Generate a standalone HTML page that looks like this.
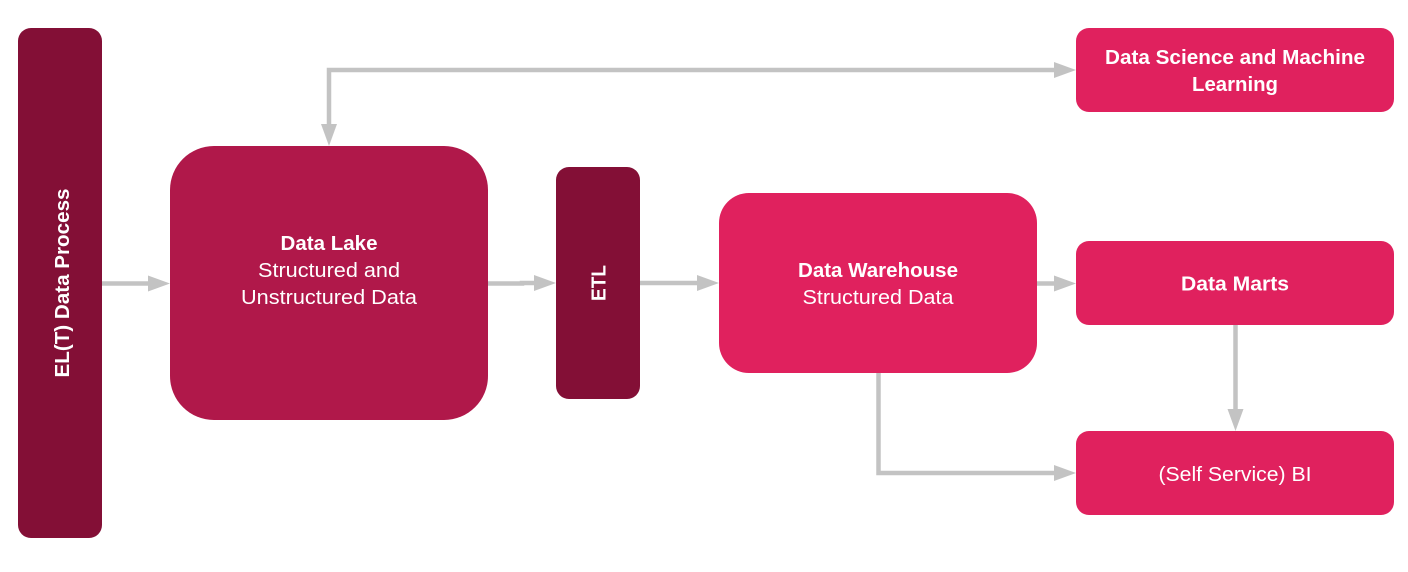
<!DOCTYPE html>
<html><head><meta charset="utf-8"><style>
html,body{margin:0;padding:0;background:#fff;width:1408px;height:572px;overflow:hidden}
svg{display:block}
text{font-family:"Liberation Sans",sans-serif;fill:#fff;text-anchor:middle;font-size:20px}
.b{font-weight:700}
</style></head><body>
<svg width="1408" height="572" viewBox="0 0 1408 572" xmlns="http://www.w3.org/2000/svg">
<rect width="1408" height="572" fill="#fff"/>
<g fill="none" stroke="#c3c3c3" stroke-width="4.5">
<path d="M102 283.500H150"/>
<path d="M488 283.500H522V283H535"/>
<path d="M640 283H698"/>
<path d="M1037 283.500H1055"/>
<path d="M329 125V70H1055"/>
<path d="M878.500 373V473H1055"/>
<path d="M1235.500 325V410"/>
</g>
<g fill="#c3c3c3">
<path d="M170 283.500L148 275.500V291.500Z"/>
<path d="M556 283L534 275V291Z"/>
<path d="M719 283L697 275V291Z"/>
<path d="M1076 283.500L1054 275.500V291.500Z"/>
<path d="M1076 70L1054 62V78Z"/>
<path d="M1076 473L1054 465V481Z"/>
<path d="M329 146L321 124H337Z"/>
<path d="M1235.500 431L1227.500 409H1243.500Z"/>
</g>
<rect x="18" y="28" width="84" height="510" rx="13" fill="#830f36"/>
<rect x="170" y="146" width="318" height="274" rx="44" fill="#b0184a"/>
<rect x="556" y="167" width="84" height="232" rx="13" fill="#830f36"/>
<rect x="719" y="193" width="318" height="180" rx="30" fill="#e0215e"/>
<rect x="1076" y="28" width="318" height="84" rx="13" fill="#e0215e"/>
<rect x="1076" y="241" width="318" height="84" rx="13" fill="#e0215e"/>
<rect x="1076" y="431" width="318" height="84" rx="13" fill="#e0215e"/>
<text class="b" transform="translate(69 283) rotate(-90)" textLength="189" lengthAdjust="spacingAndGlyphs">EL(T) Data Process</text>
<text class="b" transform="translate(605.500 283) rotate(-90)" textLength="36" lengthAdjust="spacingAndGlyphs">ETL</text>
<text class="b" x="329" y="250" textLength="97" lengthAdjust="spacingAndGlyphs">Data Lake</text>
<text x="329" y="277" textLength="142" lengthAdjust="spacingAndGlyphs">Structured and</text>
<text x="329" y="304" textLength="176" lengthAdjust="spacingAndGlyphs">Unstructured Data</text>
<text class="b" x="878" y="277" textLength="160" lengthAdjust="spacingAndGlyphs">Data Warehouse</text>
<text x="878" y="304" textLength="151" lengthAdjust="spacingAndGlyphs">Structured Data</text>
<text class="b" x="1235" y="64" textLength="260" lengthAdjust="spacingAndGlyphs">Data Science and Machine</text>
<text class="b" x="1235" y="91" textLength="86" lengthAdjust="spacingAndGlyphs">Learning</text>
<text class="b" x="1235" y="290.500" textLength="108" lengthAdjust="spacingAndGlyphs">Data Marts</text>
<text x="1235" y="481" textLength="153" lengthAdjust="spacingAndGlyphs">(Self Service) BI</text>
</svg>
</body></html>
